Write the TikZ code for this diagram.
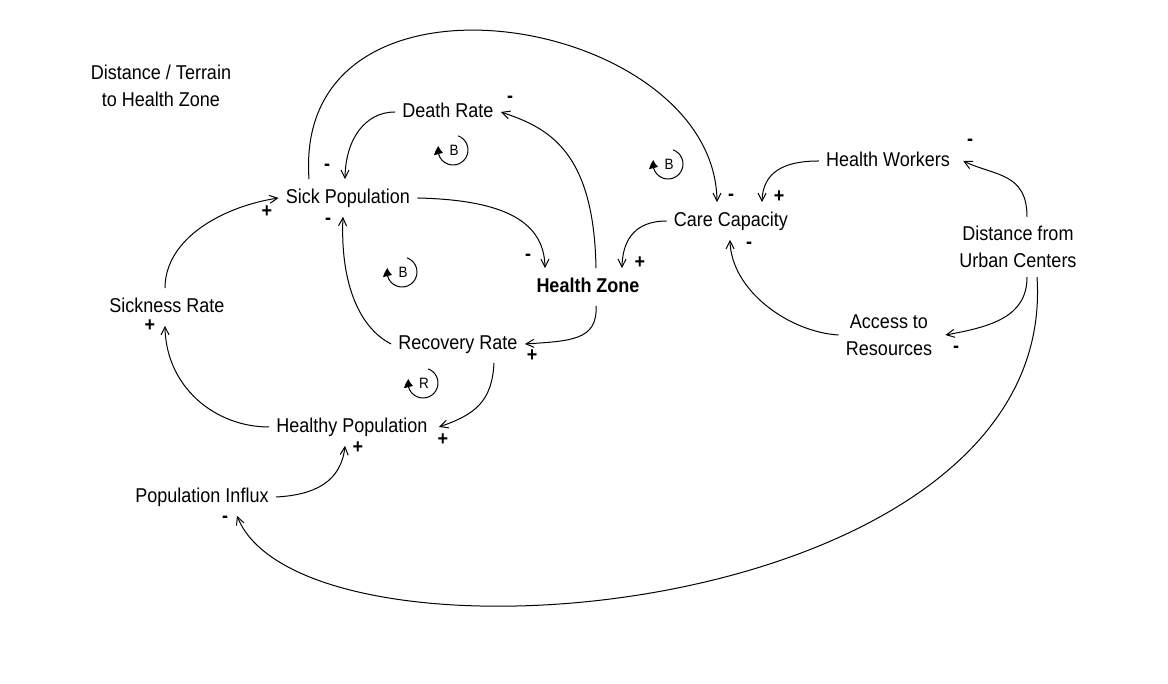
\documentclass[tikz,border=0pt]{standalone}
\usepackage{fontspec}
\setmainfont{Liberation Sans}[FakeStretch=0.9]
\usetikzlibrary{arrows.meta,bending}

\begin{document}
\begin{tikzpicture}[x=0.5pt,y=0.5pt,
  var/.style={font=\fontsize{10}{13.5}\selectfont, inner xsep=3.5pt, inner ysep=4.5pt,
    text height=7.4pt, text depth=2pt},
  var2/.style={font=\fontsize{10}{13.5}\selectfont, align=center, inner xsep=3.5pt, inner ysep=4.5pt},
  sign/.style={font=\fontsize{10}{12}\selectfont\bfseries, inner sep=0pt},
  link/.style={line width=0.5pt, -{Straight Barb[length=4pt,width=4pt]}},
  loopmk/.style={line width=0.5pt, -{Triangle[length=4pt,width=4.5pt,bend]}}]
\useasboundingbox (0,0) rectangle (1168,684);

% variables
\node[var2] (terrain) at (161,598) {Distance / Terrain\\to Health Zone};
\node[var] (death) at (448,572) {Death Rate};
\node[var] (sick) at (348,486) {Sick Population};
\node[var] (zone) at (588,397) {\textbf{Health Zone}};
\node[var] (care) at (731,463) {Care Capacity};
\node[var] (workers) at (888,523) {Health Workers};
\node[var2] (urban) at (1018,437) {Distance from\\Urban Centers};
\node[var2] (access) at (889,349) {Access to\\Resources};
\node[var] (sickrate) at (167,377) {Sickness Rate};
\node[var] (recovery) at (458,340) {Recovery Rate};
\node[var] (healthy) at (352,257) {Healthy Population};
\node[var] (influx) at (202,187) {Population Influx};

% links
\draw[link] ([xshift=-19.5pt]sick.north) .. controls +(-17,236) and +(0,187) .. ([xshift=-7pt]care.north);
\draw[link] (death.west) .. controls +(-30,0) and +(0,40) .. ([xshift=-1.5pt]sick.north);
\draw[link] ([xshift=4pt]zone.north) .. controls +(-2,120) and +(45,-15) .. (death.east);
\draw[link] (sick.east) .. controls +(90,-2) and +(0,45) .. ([xshift=-21.5pt]zone.north);
\draw[link] (recovery.west) .. controls +(-35,18) and +(-3,-60) .. ([xshift=-2.5pt]sick.south);
\draw[link] ([xshift=4pt]zone.south) .. controls +(2,-35) and +(45,3) .. (recovery.east);
\draw[link] ([xshift=18pt]recovery.south) .. controls +(-2,-40) and +(35,12) .. ([xshift=2pt]healthy.east);
\draw[link] (healthy.west) .. controls +(-55,0) and +(0,-60) .. ([xshift=-1pt]sickrate.south);
\draw[link] ([xshift=-1pt]sickrate.north) .. controls +(0,50) and +(-55,-8) .. (sick.west);
\draw[link] (influx.east) .. controls +(40,2) and +(-3,-35) .. ([xshift=-3.5pt]healthy.south);
\draw[link] (care.west) .. controls +(-30,0) and +(0,30) .. ([xshift=17pt]zone.north);
\draw[link] (workers.west) .. controls +(-35,0) and +(0,30) .. ([xshift=15.5pt]care.north);
\draw[link] (access.west) .. controls +(-50,3) and +(0,-50) .. ([xshift=-0.5pt]care.south);
\draw[link] ([xshift=4.5pt]urban.north) .. controls +(0,45) and +(30,-15) .. ([xshift=3pt]workers.east);
\draw[link] ([xshift=4.5pt]urban.south) .. controls +(0,-40) and +(45,8) .. ([xshift=3pt]access.east);
\draw[link] ([xshift=9.5pt]urban.south) .. controls +(23,-346) and +(63,-169) .. ([xshift=17.5pt]influx.south);

% polarities
\foreach \n/\x/\y/\s in {s1/731/487/-, s2/327/517/-, s3/510/585/-, s4/528/427/-,
    s5/328/463/-, s6/532/328/+, s7/443/244/+, s8/150/358/+, s9/267/472/+,
    s10/358/236/+, s11/640/421/+, s12/779/487/+, s13/749/439/-, s14/970/542/-,
    s15/956/335/-, s16/225/165/-}
  \node[sign] (\n) at (\x,\y) {\s};

% loops
\foreach \n/\x/\y/\t in {lb1/453/534/B, lb2/668/520/B, lb3/402/412/B, lr/423/301/R} {
  \draw[loopmk] (\x,\y) ++(70:7.5pt) arc[start angle=70, end angle=-195, radius=7.5pt];
  \node[font=\fontsize{7.5}{9}\selectfont, inner sep=0pt] (\n) at (\x+1,\y) {\t};
}
\end{tikzpicture}
\end{document}
